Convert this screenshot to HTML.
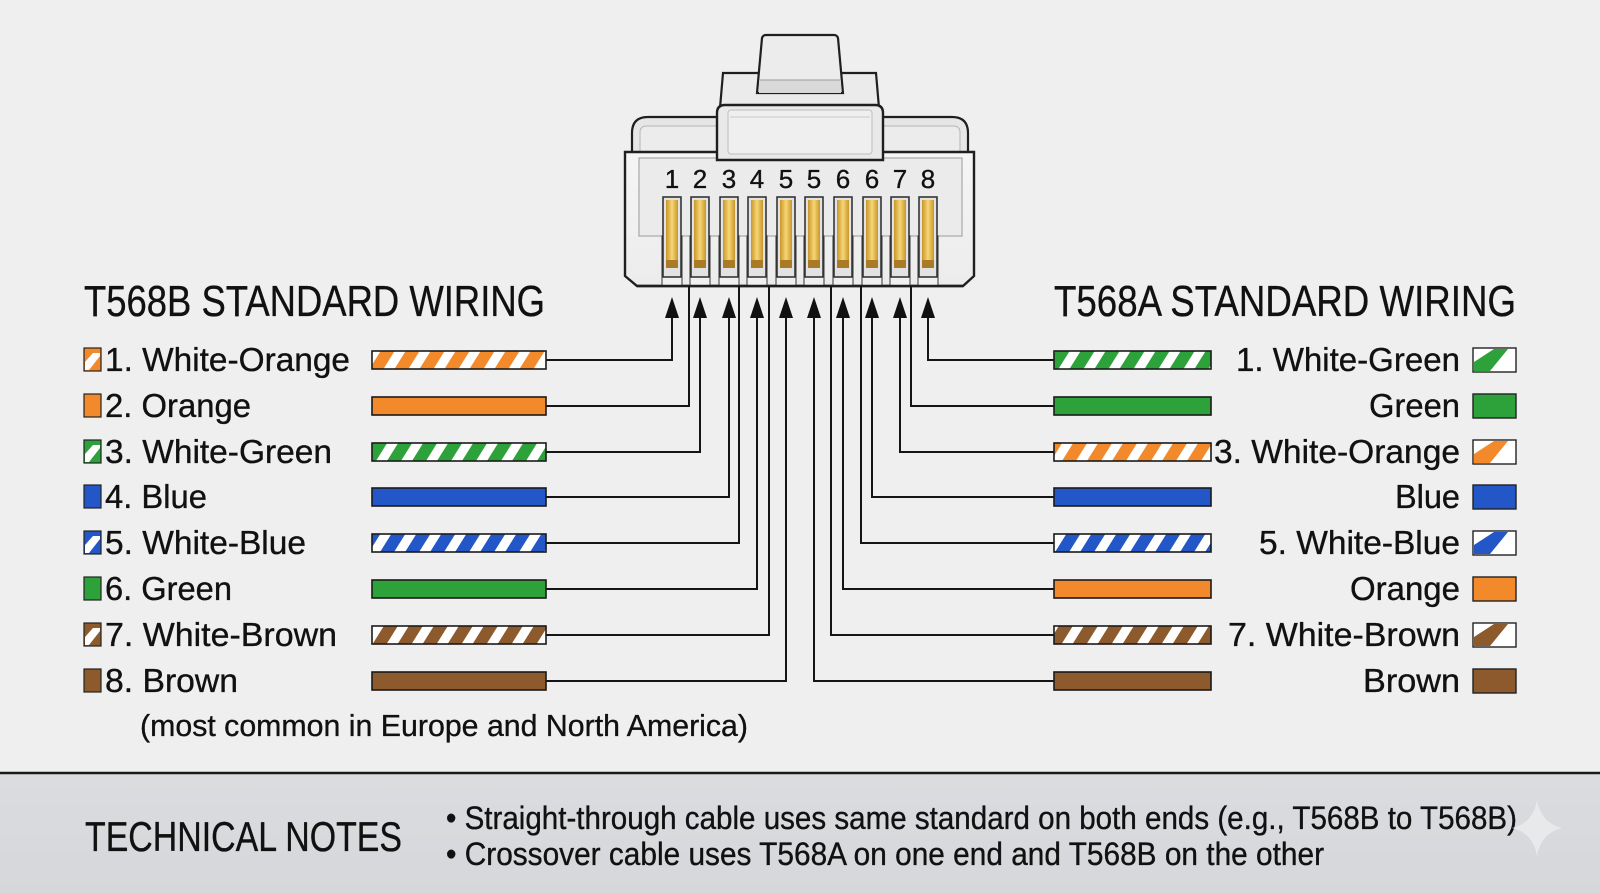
<!DOCTYPE html>
<html>
<head>
<meta charset="utf-8">
<style>
  html,body{margin:0;padding:0;background:#efefef;}
  svg{display:block;}
  text{font-family:"Liberation Sans","DejaVu Sans",sans-serif;fill:#111;stroke:#111;stroke-width:0.35px;}
</style>
</head>
<body>
<svg width="1600" height="893" viewBox="0 0 1600 893" xmlns="http://www.w3.org/2000/svg">
  <defs>
    <pattern id="pO" patternUnits="userSpaceOnUse" width="25" height="40" patternTransform="skewX(-32)">
      <rect width="25" height="40" fill="#ffffff"/><rect x="0" width="14" height="40" fill="#f28a2b"/>
    </pattern>
    <pattern id="pG" patternUnits="userSpaceOnUse" width="25" height="40" patternTransform="skewX(-32)">
      <rect width="25" height="40" fill="#ffffff"/><rect x="0" width="14" height="40" fill="#2ea23a"/>
    </pattern>
    <pattern id="pB" patternUnits="userSpaceOnUse" width="25" height="40" patternTransform="skewX(-32)">
      <rect width="25" height="40" fill="#ffffff"/><rect x="0" width="14" height="40" fill="#2356c6"/>
    </pattern>
    <pattern id="pN" patternUnits="userSpaceOnUse" width="25" height="40" patternTransform="skewX(-32)">
      <rect width="25" height="40" fill="#ffffff"/><rect x="0" width="14" height="40" fill="#8c5a2c"/>
    </pattern>
    <linearGradient id="gold" x1="0" y1="0" x2="1" y2="0">
      <stop offset="0" stop-color="#c9962c"/>
      <stop offset="0.5" stop-color="#f6d675"/>
      <stop offset="1" stop-color="#c9962c"/>
    </linearGradient>
    <linearGradient id="band" x1="0" y1="0" x2="0" y2="1">
      <stop offset="0" stop-color="#dadcdf"/>
      <stop offset="1" stop-color="#d5d7da"/>
    </linearGradient>
    <linearGradient id="bodyg" x1="0" y1="0" x2="0" y2="1">
      <stop offset="0" stop-color="#f5f5f5"/>
      <stop offset="1" stop-color="#ececec"/>
    </linearGradient>
  </defs>

  <!-- background -->
  <rect x="0" y="0" width="1600" height="893" fill="#efefef"/>
  <rect x="0" y="773" width="1600" height="120" fill="url(#band)"/>
  <line x1="0" y1="773" x2="1600" y2="773" stroke="#1a1a1a" stroke-width="2.5"/>

  <!-- ===== CONNECTOR ===== -->
  <path d="M632,153 L632,133 Q632,117 648,117 L952,117 Q968,117 968,133 L968,153 Z" fill="#e6e6e6" stroke="#1f1f1f" stroke-width="2.2"/>
  <rect x="640" y="126" width="320" height="30" rx="6" fill="#ececec" stroke="#b5b5b5" stroke-width="1"/>
  <path d="M720,108 L723,73 L876,73 L879,108 Z" fill="#ebebeb" stroke="#1f1f1f" stroke-width="2.2"/>
  <path d="M757,93 L762,38 Q763,35 766,35 L834,35 Q837,35 838,38 L843,93 Z" fill="#ececec" stroke="#1f1f1f" stroke-width="2.2"/>
  <rect x="759" y="80" width="82" height="13" fill="#d9d9d9"/>
  <line x1="759" y1="80" x2="841" y2="80" stroke="#9a9a9a" stroke-width="1"/>
  <path d="M625,152 L974,152 L974,276 L963,286 L637,286 L625,276 Z" fill="url(#bodyg)" stroke="#1f1f1f" stroke-width="2.4"/>
  <rect x="639" y="158" width="323" height="78" fill="#ebebeb" stroke="#a8a8a8" stroke-width="1.2"/>
  <path d="M717,160 L717,113 Q717,105 725,105 L875,105 Q883,105 883,113 L883,160 Z" fill="#e9e9e9" stroke="#1f1f1f" stroke-width="2.4"/>
  <rect x="728" y="110" width="144" height="44" rx="3" fill="#efefef" stroke="#bdbdbd" stroke-width="1"/>
  <line x1="730" y1="117" x2="870" y2="117" stroke="#c8c8c8" stroke-width="1"/>

  <!-- pin numbers -->
  <g font-size="26" text-anchor="middle">
    <text x="672" y="188">1</text>
    <text x="700" y="188">2</text>
    <text x="729" y="188">3</text>
    <text x="757" y="188">4</text>
    <text x="786" y="188">5</text>
    <text x="814" y="188">5</text>
    <text x="843" y="188">6</text>
    <text x="872" y="188">6</text>
    <text x="900" y="188">7</text>
    <text x="928" y="188">8</text>
  </g>

  <!-- pins -->
  <g id="pins">
    <g transform="translate(672,0)">
      <rect x="-10" y="236" width="20" height="50" fill="#f0f0f0" stroke="#555" stroke-width="1.2"/>
      <rect x="-9" y="197" width="18" height="80" fill="#e2e2e2" stroke="#2a2a2a" stroke-width="1.5"/>
      <rect x="-6" y="200" width="12" height="68" fill="url(#gold)"/>
      <rect x="-6" y="260" width="12" height="8" fill="#a97b25"/>
    </g>
  </g>
  <use href="#pins" transform="translate(28,0)"/>
  <use href="#pins" transform="translate(57,0)"/>
  <use href="#pins" transform="translate(85,0)"/>
  <use href="#pins" transform="translate(114,0)"/>
  <use href="#pins" transform="translate(142,0)"/>
  <use href="#pins" transform="translate(171,0)"/>
  <use href="#pins" transform="translate(200,0)"/>
  <use href="#pins" transform="translate(228,0)"/>
  <use href="#pins" transform="translate(256,0)"/>
  <line x1="637" y1="286" x2="963" y2="286" stroke="#1f1f1f" stroke-width="2.4"/>

  <!-- arrows -->
  <g fill="#111">
    <polygon points="672,297 665,318 679,318"/>
    <polygon points="700,297 693,318 707,318"/>
    <polygon points="729,297 722,318 736,318"/>
    <polygon points="757,297 750,318 764,318"/>
    <polygon points="786,297 779,318 793,318"/>
    <polygon points="814,297 807,318 821,318"/>
    <polygon points="843,297 836,318 850,318"/>
    <polygon points="872,297 865,318 879,318"/>
    <polygon points="900,297 893,318 907,318"/>
    <polygon points="928,297 921,318 935,318"/>
  </g>

  <!-- wires -->
  <g fill="none" stroke="#151515" stroke-width="2">
    <polyline points="546,360 672,360 672,318"/>
    <polyline points="546,406 689,406 689,286"/>
    <polyline points="546,452 700,452 700,318"/>
    <polyline points="546,497 729,497 729,318"/>
    <polyline points="546,543 739,543 739,286"/>
    <polyline points="546,589 757,589 757,318"/>
    <polyline points="546,635 769,635 769,286"/>
    <polyline points="546,681 786,681 786,318"/>

    <polyline points="1054,360 928,360 928,318"/>
    <polyline points="1054,406 911,406 911,286"/>
    <polyline points="1054,452 900,452 900,318"/>
    <polyline points="1054,497 872,497 872,318"/>
    <polyline points="1054,543 861,543 861,286"/>
    <polyline points="1054,589 843,589 843,318"/>
    <polyline points="1054,635 831,635 831,286"/>
    <polyline points="1054,681 814,681 814,318"/>
  </g>

  <!-- ===== TITLES ===== -->
  <text x="84" y="316" font-size="44" textLength="461" lengthAdjust="spacingAndGlyphs">T568B STANDARD WIRING</text>
  <text x="1054" y="316" font-size="44" textLength="462" lengthAdjust="spacingAndGlyphs">T568A STANDARD WIRING</text>

  <!-- ===== LEFT BARS ===== -->
  <g stroke="#1a1a1a" stroke-width="1.6">
    <rect x="372" y="351" width="174" height="18" fill="url(#pO)"/>
    <rect x="372" y="397" width="174" height="18" fill="#f28a2b"/>
    <rect x="372" y="443" width="174" height="18" fill="url(#pG)"/>
    <rect x="372" y="488" width="174" height="18" fill="#2356c6"/>
    <rect x="372" y="534" width="174" height="18" fill="url(#pB)"/>
    <rect x="372" y="580" width="174" height="18" fill="#2ea23a"/>
    <rect x="372" y="626" width="174" height="18" fill="url(#pN)"/>
    <rect x="372" y="672" width="174" height="18" fill="#8c5a2c"/>
  </g>

  <!-- ===== RIGHT BARS ===== -->
  <g stroke="#1a1a1a" stroke-width="1.6">
    <rect x="1054" y="351" width="157" height="18" fill="url(#pG)"/>
    <rect x="1054" y="397" width="157" height="18" fill="#2ea23a"/>
    <rect x="1054" y="443" width="157" height="18" fill="url(#pO)"/>
    <rect x="1054" y="488" width="157" height="18" fill="#2356c6"/>
    <rect x="1054" y="534" width="157" height="18" fill="url(#pB)"/>
    <rect x="1054" y="580" width="157" height="18" fill="#f28a2b"/>
    <rect x="1054" y="626" width="157" height="18" fill="url(#pN)"/>
    <rect x="1054" y="672" width="157" height="18" fill="#8c5a2c"/>
  </g>

  <!-- ===== LEFT ICONS ===== -->
  <g stroke="#222" stroke-width="1.2">
    <rect x="84" y="348" width="17" height="23" fill="#f28a2b"/>
    <rect x="84" y="394" width="17" height="23" fill="#f28a2b"/>
    <rect x="84" y="440" width="17" height="23" fill="#2ea23a"/>
    <rect x="84" y="485" width="17" height="23" fill="#2356c6"/>
    <rect x="84" y="531" width="17" height="23" fill="#2356c6"/>
    <rect x="84" y="577" width="17" height="23" fill="#2ea23a"/>
    <rect x="84" y="623" width="17" height="23" fill="#8c5a2c"/>
    <rect x="84" y="669" width="17" height="23" fill="#8c5a2c"/>
  </g>
  <g fill="#ffffff">
    <polygon points="85,370 85,362 93,353 100,353 100,356 89,370"/>
    <polygon points="85,462 85,454 93,445 100,445 100,448 89,462"/>
    <polygon points="85,553 85,545 93,536 100,536 100,539 89,553"/>
    <polygon points="85,645 85,637 93,628 100,628 100,631 89,645"/>
  </g>

  <!-- ===== RIGHT ICONS ===== -->
  <g stroke="#222" stroke-width="1.4">
    <rect x="1473" y="348" width="43" height="24" fill="#ffffff"/>
    <rect x="1473" y="394" width="43" height="24" fill="#2ea23a"/>
    <rect x="1473" y="440" width="43" height="24" fill="#ffffff"/>
    <rect x="1473" y="485" width="43" height="24" fill="#2356c6"/>
    <rect x="1473" y="531" width="43" height="24" fill="#ffffff"/>
    <rect x="1473" y="577" width="43" height="24" fill="#f28a2b"/>
    <rect x="1473" y="623" width="43" height="24" fill="#ffffff"/>
    <rect x="1473" y="669" width="43" height="24" fill="#8c5a2c"/>
  </g>
  <g>
    <polygon points="1474,371 1474,362 1494,349 1508,349 1490,371" fill="#2ea23a"/>
    <polygon points="1474,463 1474,454 1494,441 1508,441 1490,463" fill="#f28a2b"/>
    <polygon points="1474,554 1474,545 1494,532 1508,532 1490,554" fill="#2356c6"/>
    <polygon points="1474,646 1474,637 1494,624 1508,624 1490,646" fill="#8c5a2c"/>
  </g>

  <!-- ===== LEFT LABELS ===== -->
  <g font-size="33">
    <text x="105" y="371" textLength="245" lengthAdjust="spacingAndGlyphs">1. White-Orange</text>
    <text x="105" y="417" textLength="146" lengthAdjust="spacingAndGlyphs">2. Orange</text>
    <text x="105" y="463" textLength="227" lengthAdjust="spacingAndGlyphs">3. White-Green</text>
    <text x="105" y="508" textLength="102" lengthAdjust="spacingAndGlyphs">4. Blue</text>
    <text x="105" y="554" textLength="201" lengthAdjust="spacingAndGlyphs">5. White-Blue</text>
    <text x="105" y="600" textLength="127" lengthAdjust="spacingAndGlyphs">6. Green</text>
    <text x="105" y="646" textLength="232" lengthAdjust="spacingAndGlyphs">7. White-Brown</text>
    <text x="105" y="692" textLength="133" lengthAdjust="spacingAndGlyphs">8. Brown</text>
    <text x="140" y="736" font-size="31" textLength="608" lengthAdjust="spacingAndGlyphs">(most common in Europe and North America)</text>
  </g>

  <!-- ===== RIGHT LABELS ===== -->
  <g font-size="33" text-anchor="end">
    <text x="1460" y="371" textLength="224" lengthAdjust="spacingAndGlyphs">1. White-Green</text>
    <text x="1460" y="417" textLength="91" lengthAdjust="spacingAndGlyphs">Green</text>
    <text x="1460" y="463" textLength="246" lengthAdjust="spacingAndGlyphs">3. White-Orange</text>
    <text x="1460" y="508" textLength="65" lengthAdjust="spacingAndGlyphs">Blue</text>
    <text x="1460" y="554" textLength="201" lengthAdjust="spacingAndGlyphs">5. White-Blue</text>
    <text x="1460" y="600" textLength="110" lengthAdjust="spacingAndGlyphs">Orange</text>
    <text x="1460" y="646" textLength="232" lengthAdjust="spacingAndGlyphs">7. White-Brown</text>
    <text x="1460" y="692" textLength="97" lengthAdjust="spacingAndGlyphs">Brown</text>
  </g>

  <!-- ===== TECHNICAL NOTES ===== -->
  <text x="85" y="851" font-size="42" textLength="317" lengthAdjust="spacingAndGlyphs">TECHNICAL NOTES</text>
  <text x="446" y="829" font-size="32" textLength="1071" lengthAdjust="spacingAndGlyphs">• Straight-through cable uses same standard on both ends (e.g., T568B to T568B)</text>
  <text x="446" y="865" font-size="32" textLength="878" lengthAdjust="spacingAndGlyphs">• Crossover cable uses T568A on one end and T568B on the other</text>

  <!-- sparkle -->
  <path d="M1537,800 Q1541,823 1562,828 Q1541,833 1537,856 Q1533,833 1512,828 Q1533,823 1537,800 Z" fill="#e9eaec" opacity="0.9"/>
</svg>
</body>
</html>
